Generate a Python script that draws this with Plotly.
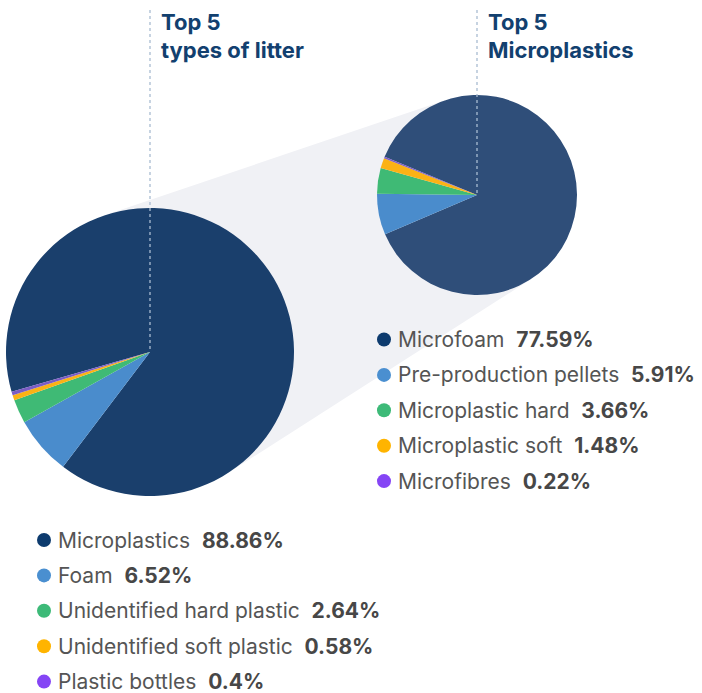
"""Two linked pie charts: top 5 litter types and top 5 microplastics."""

import math

import plotly.graph_objects as go

W, H = 702, 693

litter_labels = ["Microplastics", "Foam", "Unidentified hard plastic",
                 "Unidentified soft plastic", "Plastic bottles"]
litter_values = [88.86, 6.52, 2.64, 0.58, 0.4]
litter_value_text = ["88.86%", "6.52%", "2.64%", "0.58%", "0.4%"]

micro_labels = ["Microfoam", "Pre-production pellets", "Microplastic hard",
                "Microplastic soft", "Microfibres"]
micro_values = [77.59, 5.91, 3.66, 1.48, 0.22]
micro_value_text = ["77.59%", "5.91%", "3.66%", "1.48%", "0.22%"]

big_pie_colors = ["#1a3f6c", "#4a8ccc", "#3fba75", "#fbb215", "#7b5cc4"]
small_pie_colors = ["#2f4e79", "#4a8ccc", "#3fba75", "#fbb215", "#7b5cc4"]
dot_colors = ["#0d3b6e", "#4a8fd0", "#3dba78", "#ffb400", "#8545f5"]

# pie geometry in window pixels (centre x, centre y, radius)
BIG = (150, 352, 144)
SMALL = (477, 195, 100)


def _domain(cx, cy, r):
    return dict(x=[(cx - r) / W, (cx + r) / W], y=[1 - (cy + r) / H, 1 - (cy - r) / H])


def _hull_path(c1, c2):
    (x1, y1, r1), (x2, y2, r2) = c1, c2
    dist = math.hypot(x2 - x1, y2 - y1)
    phi = math.atan2(y2 - y1, x2 - x1)
    alpha = math.acos((r1 - r2) / dist)
    pts = []
    for a in (phi - alpha, phi + alpha):
        pts.append(((x1 + r1 * math.cos(a), y1 + r1 * math.sin(a)),
                    (x2 + r2 * math.cos(a), y2 + r2 * math.sin(a))))
    (a1, a2), (b1, b2) = pts
    return f"M {a1[0]},{a1[1]} L {a2[0]},{a2[1]} L {b2[0]},{b2[1]} L {b1[0]},{b1[1]} Z"


fig = go.Figure()

fig.add_trace(go.Pie(
    labels=litter_labels, values=litter_values, sort=False, direction="clockwise",
    rotation=-106, textinfo="none", hoverinfo="label+percent", showlegend=False,
    marker=dict(colors=big_pie_colors, line=dict(width=0)), domain=_domain(*BIG),
))
fig.add_trace(go.Pie(
    labels=micro_labels, values=micro_values, sort=False, direction="clockwise",
    rotation=-67.5, textinfo="none", hoverinfo="label+percent", showlegend=False,
    marker=dict(colors=small_pie_colors, line=dict(width=0)), domain=_domain(*SMALL),
))

# legend dots + labels
row_gap = 35.4
legends = [
    (44, 540, litter_labels, litter_value_text),
    (384, 339.5, micro_labels, micro_value_text),
]
annotations = []
for x0, y0, labels, vals in legends:
    ys = [y0 + i * row_gap for i in range(len(labels))]
    fig.add_trace(go.Scatter(
        x=[x0] * len(labels), y=ys, mode="markers", hoverinfo="skip", showlegend=False,
        marker=dict(size=14, color=dot_colors, line=dict(width=0)),
    ))
    for lab, val, y in zip(labels, vals, ys):
        annotations.append(dict(
            x=x0 + 12, y=y, xref="x", yref="y", xanchor="left", yanchor="middle",
            showarrow=False,
            text=f"{lab}&nbsp;&nbsp;<b><span style='color:#474747'>{val}</span></b>",
            font=dict(family="Inter", size=21, color="#555555"),
        ))

title_font = dict(family="Inter", size=22, color="#12406f")
for x, lines in ((159, ["Top 5", "types of litter"]), (486, ["Top 5", "Microplastics"])):
    for i, line in enumerate(lines):
        annotations.append(dict(
            x=x, y=22 + i * 28, xref="x", yref="y", xanchor="left", yanchor="middle",
            showarrow=False, text=f"<b>{line}</b>", font=title_font,
        ))

shapes = [
    dict(type="path", path=_hull_path(BIG, SMALL), xref="x", yref="y",
         fillcolor="#f0f1f5", line=dict(width=0), layer="below"),
    dict(type="line", x0=BIG[0], x1=BIG[0], y0=10, y1=BIG[1], xref="x", yref="y",
         line=dict(color="#a9bcd2", width=1.3, dash="3px,3px"), layer="above"),
    dict(type="line", x0=SMALL[0], x1=SMALL[0], y0=10, y1=SMALL[1], xref="x", yref="y",
         line=dict(color="#a9bcd2", width=1.3, dash="3px,3px"), layer="above"),
]

fig.update_layout(
    width=W, height=H, margin=dict(l=0, r=0, t=0, b=0),
    paper_bgcolor="white", plot_bgcolor="white",
    xaxis=dict(range=[0, W], visible=False, fixedrange=True, domain=[0, 1]),
    yaxis=dict(range=[H, 0], visible=False, fixedrange=True, domain=[0, 1]),
    shapes=shapes, annotations=annotations,
)

fig.write_html("out.html", config={"displayModeBar": False},
               post_script="document.body.style.margin = '0';")
